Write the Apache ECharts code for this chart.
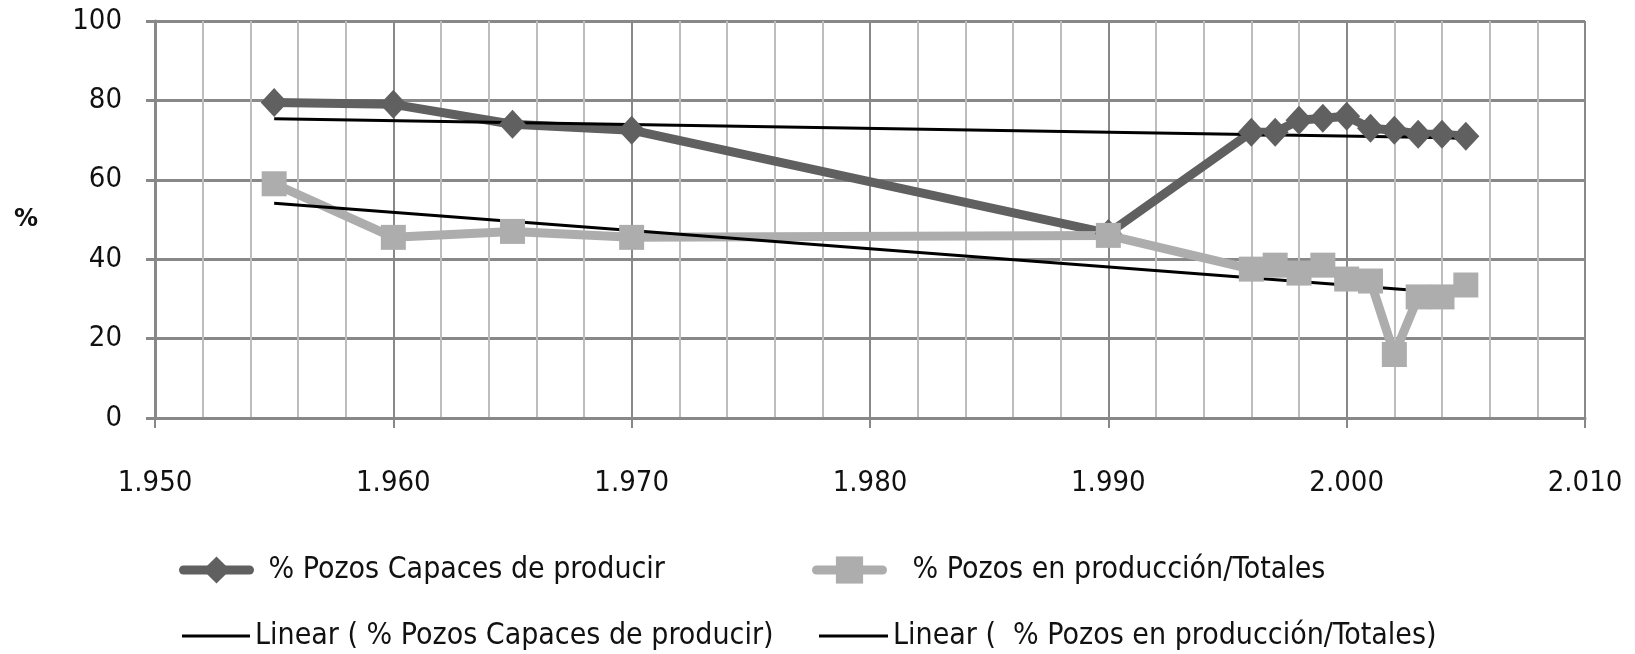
<!DOCTYPE html>
<html>
<head>
<meta charset="utf-8">
<script src="https://cdn.jsdelivr.net/npm/echarts@6/dist/echarts.min.js"></script>
<style>
html,body{margin:0;padding:0;background:#fff;}
#chart{width:1635px;height:654px;}
</style>
</head>
<body>
<div id="chart"></div>
<script>
// ---- data ----
const years = [1955, 1960, 1965, 1970, 1990, 1996, 1997, 1998, 1999, 2000, 2001, 2002, 2003, 2004, 2005];
const capaces = [79.5, 79, 74, 72.5, 46.5, 72, 72, 75, 75.5, 76, 73, 72.5, 71.5, 71.5, 71];
const produccion = [59, 45.5, 47, 45.5, 46, 37.5, 38.5, 36.5, 38.5, 35, 34.5, 16, 30.5, 30.5, 33.5];
const trendYears = [1955, 2005];
const trendCapaces = [75.4, 70.5];
const trendProduccion = [54.1, 31.2];
const seriesNames = [
  '% Pozos Capaces de producir',
  '% Pozos en producción/Totales',
  'Linear ( % Pozos Capaces de producir)',
  'Linear (  % Pozos en producción/Totales)'
];
const yAxisName = '%';

const pair = (xs, ys) => xs.map((x, i) => [x, ys[i]]);
const FONT = "'DejaVu Sans Condensed', 'DejaVu Sans', sans-serif";
const DARK = '#606060', LIGHT = '#adadad', GRID = '#888888', MINOR = '#bdbdbd';

const chart = echarts.init(document.getElementById('chart'), null, {renderer: 'canvas'});

function legend(item, left, top, itemWidth, itemHeight, padLeft, extra) {
  return Object.assign({
    data: [item],
    left: left, top: top,
    orient: 'horizontal',
    padding: 0,
    itemWidth: itemWidth,
    itemHeight: itemHeight,
    selectedMode: false,
    textStyle: {fontFamily: FONT, fontSize: 30, color: '#111', lineHeight: 30, padding: [0, 0, 0, padLeft]}
  }, extra || {});
}

chart.setOption({
  animation: false,
  backgroundColor: '#fff',
  grid: {left: 155, right: 50, top: 21, bottom: 236, containLabel: false},
  xAxis: {
    type: 'value', min: 1950, max: 2010, interval: 10,
    axisLine: {show: true, lineStyle: {color: GRID, width: 3}},
    axisTick: {show: true, length: 10, lineStyle: {color: GRID, width: 2}},
    minorTick: {show: false, splitNumber: 5},
    minorSplitLine: {show: true, lineStyle: {color: MINOR, width: 2}},
    splitLine: {show: true, lineStyle: {color: GRID, width: 2}},
    axisLabel: {
      margin: 51, fontFamily: FONT, fontSize: 29, color: '#111',
      formatter: v => Math.floor(v / 1000) + '.' + String(v % 1000).padStart(3, '0')
    }
  },
  yAxis: {
    type: 'value', min: 0, max: 100, interval: 20,
    name: yAxisName, nameLocation: 'middle', nameRotate: 0, nameGap: 117,
    nameTextStyle: {fontFamily: "'DejaVu Sans', sans-serif", fontSize: 24, fontWeight: 'bold', color: '#111', padding: [18, 0, 0, 0]},
    axisLine: {show: true, lineStyle: {color: GRID, width: 3}},
    axisTick: {show: true, length: 9, lineStyle: {color: GRID, width: 3}},
    splitLine: {show: true, lineStyle: {color: GRID, width: 3}},
    axisLabel: {margin: 33, fontFamily: FONT, fontSize: 29, color: '#111'}
  },
  legend: [
    legend(seriesNames[0], 179, 555, 66, 34, 14, {lineStyle: {width: 9, cap: 'round'}}),
    legend(seriesNames[1], 812, 555, 66, 34, 25, {lineStyle: {width: 9, cap: 'round'}}),
    legend({name: seriesNames[2], icon: 'rect'}, 182, 621, 68, 3, 0, {itemStyle: {color: '#000'}}),
    legend({name: seriesNames[3], icon: 'rect'}, 819, 621, 69, 3, 0, {itemStyle: {color: '#000'}})
  ],
  series: [
    {
      name: seriesNames[0], type: 'line', data: pair(years, capaces),
      symbol: 'diamond', symbolSize: [27, 29],
      lineStyle: {color: DARK, width: 9},
      itemStyle: {color: DARK}
    },
    {
      name: seriesNames[1], type: 'line', data: pair(years, produccion),
      symbol: 'rect', symbolSize: 25,
      lineStyle: {color: LIGHT, width: 9},
      itemStyle: {color: LIGHT}
    },
    {
      name: seriesNames[2], type: 'line', data: pair(trendYears, trendCapaces),
      symbol: 'none', lineStyle: {color: '#000', width: 3}, itemStyle: {color: '#000'}
    },
    {
      name: seriesNames[3], type: 'line', data: pair(trendYears, trendProduccion),
      symbol: 'none', lineStyle: {color: '#000', width: 3}, itemStyle: {color: '#000'}
    }
  ]
});
</script>
</body>
</html>
